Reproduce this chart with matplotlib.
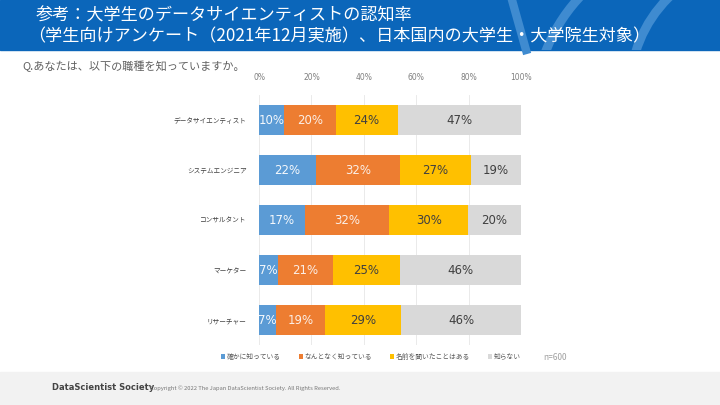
import matplotlib
matplotlib.use("Agg")
import matplotlib.pyplot as plt
from matplotlib import font_manager
from matplotlib.patches import Rectangle, Circle
import numpy as np

plt.rcParams['font.family'] = ['Noto Sans CJK JP', 'DejaVu Sans']

# 職種と回答の割合 (%)
jobs = ['データサイエンティスト', 'システムエンジニア', 'コンサルタント', 'マーケター', 'リサーチャー']
answers = ['確かに知っている', 'なんとなく知っている', '名前を聞いたことはある', '知らない']
know_well = [9.6, 21.8, 17.4, 7.3, 6.6]
know_vaguely = [19.6, 32.1, 32.3, 21.0, 18.7]
heard_name = [23.7, 27.0, 30.1, 25.4, 29.0]
dont_know = [47.1, 19.1, 20.2, 46.3, 45.7]
xticks = [0, 20, 40, 60, 80, 100]

colors = ['#5B9BD5', '#ED7D31', '#FFC000', '#D9D9D9']
label_colors = ['#f4f8fc', '#fbeee6', '#404040', '#404040']

# ロゴ用の細い書体 (なければ普通のものを小さく)
installed = {f.name for f in font_manager.fontManager.ttflist}
if 'Liberation Sans Narrow' in installed:
    logo_font, logo_size = 'Liberation Sans Narrow', 8.5
else:
    logo_font, logo_size = 'DejaVu Sans', 6.0

fig = plt.figure(figsize=(7.2, 4.05), dpi=100)

# 背景 (ヘッダー帯・フッター帯)
bg = fig.add_axes([0, 0, 1, 1])
bg.set_xlim(0, 720)
bg.set_ylim(405, 0)
bg.axis('off')
band = Rectangle((0, 0), 720, 50, color='#0B66BA', zorder=0)
bg.add_patch(band)
arc_col = '#3f8bd0'
for cx, cy, r in [(700, 110, 165), (760, 90, 130)]:
    c = Circle((cx, cy), r, fill=False, ec=arc_col, lw=6.5, zorder=1)
    bg.add_patch(c)
    c.set_clip_path(band)
bg.plot([512, 526], [0, 50], color=arc_col, lw=6, zorder=1, clip_path=band)
bg.add_patch(Rectangle((0, 372), 720, 33, color='#F2F2F2', zorder=0))

bg.text(36, 16, '参考：大学生のデータサイエンティストの認知率', color='white',
        fontsize=12.3, va='center', ha='left', zorder=3)
bg.text(28, 36, '（学生向けアンケート（2021年12月実施）、日本国内の大学生・大学院生対象）',
        color='white', fontsize=12.3, va='center', ha='left', zorder=3)
bg.text(22, 66, 'Q.あなたは、以下の職種を知っていますか。', color='#606060',
        fontsize=8, va='center', ha='left')
bg.text(543, 358, 'n=600', color='#a0a0a0', fontsize=6, va='center', ha='left')
bg.text(52, 388, 'DataScientist Society', color='#444444', fontsize=logo_size,
        fontweight='bold', va='center', ha='left', family=logo_font)
bg.text(150, 388, 'Copyright © 2022 The Japan DataScientist Society. All Rights Reserved.',
        color='#777777', fontsize=4.2, va='center', ha='left')

# 帯グラフ
ax = fig.add_axes([259 / 720, 1 - 345 / 405, 262 / 720, 250 / 405])
y = np.arange(len(jobs))
left = np.zeros(len(jobs))
for vals, name, col, lc in zip([know_well, know_vaguely, heard_name, dont_know],
                               answers, colors, label_colors):
    bars = ax.barh(y, vals, left=left, height=0.6, color=col, label=name, zorder=2)
    ax.bar_label(bars, labels=['%d%%' % round(v) for v in vals],
                 label_type='center', color=lc, fontsize=8.5, family='DejaVu Sans')
    left += np.array(vals)

ax.set_xlim(0, 100)
ax.set_ylim(len(jobs) - 0.5, -0.5)
ax.set_xticks(xticks)
ax.set_xticklabels(['%d%%' % t for t in xticks], fontsize=5.5, color='#7f7f7f',
                   family='DejaVu Sans')
ax.xaxis.tick_top()
ax.tick_params(axis='x', length=0, pad=9)
ax.set_yticks(y)
ax.set_yticklabels(jobs, fontsize=4.8, color='#404040')
ax.tick_params(axis='y', length=0, pad=9)
ax.grid(axis='x', color='#e6e6e6', lw=0.6, zorder=0)
for s in ax.spines.values():
    s.set_visible(False)

fig.legend(loc='center', bbox_to_anchor=(371 / 720, 1 - 357 / 405), ncol=4,
           frameon=False, fontsize=4.9, handlelength=0.6, handleheight=0.6,
           handletextpad=0.3, columnspacing=2.6, labelcolor='#595959')

fig.savefig('out.png', dpi=100)
